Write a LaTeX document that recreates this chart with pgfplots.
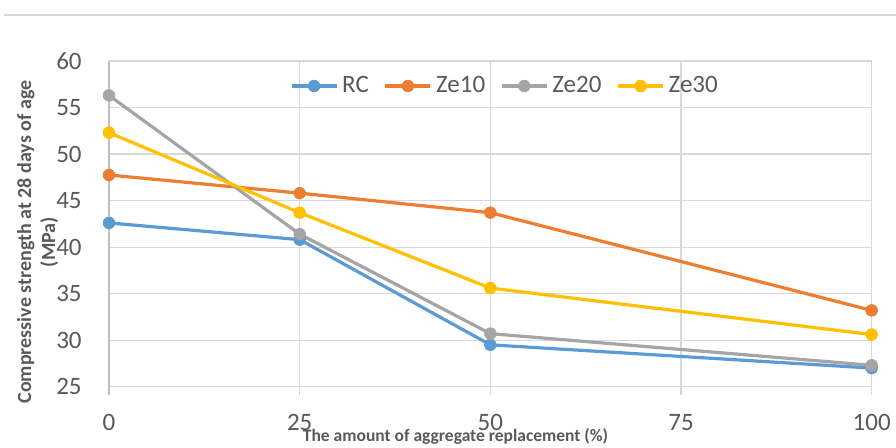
\documentclass[border=0pt]{standalone}
\usepackage{fontspec}
\setmainfont{Carlito}
\usepackage{pgfplots}
\pgfplotsset{compat=1.18}
\definecolor{cRC}{HTML}{5B9BD5}
\definecolor{cZa}{HTML}{ED7D31}
\definecolor{cZb}{HTML}{A5A5A5}
\definecolor{cZc}{HTML}{FFC000}
\definecolor{gridc}{HTML}{D9D9D9}
\definecolor{axisc}{HTML}{BFBFBF}
\definecolor{textc}{HTML}{595959}
\begin{document}
\begin{tikzpicture}
\path[use as bounding box] (0,0) rectangle (448pt,224pt);
\draw[gridc, line width=0.6pt] (2pt,216.5pt) -- (448pt,216.5pt);
\begin{axis}[
  at={(54.5pt,30.65pt)}, anchor=south west,
  scale only axis, width=381.35pt, height=162.85pt,
  xmin=0, xmax=100, ymin=25, ymax=60,
  xtick={0,25,50,75,100}, ytick={25,30,...,60},
  grid=major, major grid style={gridc, line width=0.6pt},
  axis line style={draw=none}, tick style={draw=none},
  clip=false,
  /pgf/number format/assume math mode=true,
  ticklabel style={text=textc, font=\fontsize{12.5}{15}\selectfont},
  yticklabel style={anchor=east, inner sep=0pt, xshift=-13.5pt},
  xticklabel style={anchor=center, inner sep=0pt, yshift=-17.7pt},
  legend columns=4, legend cell align=left,
  legend style={at={(0.2373,0.9232)}, anchor=west, draw=none, fill=none,
    inner sep=0pt, outer sep=0pt,
    nodes={inner sep=2pt, text=textc, font=\fontsize{12.5}{15}\selectfont},
    /tikz/every even column/.append style={column sep=5.5pt}},
  legend image code/.code={\draw[mark repeat=2,mark phase=2] plot coordinates {(0pt,0pt) (11.25pt,0pt) (22.5pt,0pt)};},
  every axis plot/.append style={line width=1.6pt, mark=*, mark size=2.9pt},
]
\draw[axisc, line width=0.6pt] (axis cs:0,60) -- (axis cs:0,25) -- ++(0pt,-4pt);
\pgfplotsinvokeforeach{25,50,75,100}{\draw[gridc, line width=0.6pt] (axis cs:#1,25) -- ++(0pt,-4pt);}
\addplot[cRC, mark options={solid, fill=cRC, line width=0.4pt}] coordinates {(0,42.6) (25,40.8) (50,29.5) (100,27.0)};
\addlegendentry{RC}
\addplot[cZa, mark options={solid, fill=cZa, line width=0.4pt}] coordinates {(0,47.75) (25,45.8) (50,43.7) (100,33.2)};
\addlegendentry{Ze10}
\addplot[cZb, mark options={solid, fill=cZb, line width=0.4pt}] coordinates {(0,56.3) (25,41.4) (50,30.7) (100,27.3)};
\addlegendentry{Ze20}
\addplot[cZc, mark options={solid, fill=cZc, line width=0.4pt}] coordinates {(0,52.3) (25,43.7) (50,35.6) (100,30.6)};
\addlegendentry{Ze30}
\end{axis}
\node[anchor=base, font=\bfseries\fontsize{8.75}{10.5}\selectfont, text=textc] at (227.75pt,3.3pt) {The amount of aggregate replacement (\%)};
\node[rotate=90, align=center, font=\bfseries\fontsize{10}{12}\selectfont, text=textc] at (18.75pt,103pt) {Compressive strength at 28 days of age\\(MPa)};
\end{tikzpicture}
\end{document}
